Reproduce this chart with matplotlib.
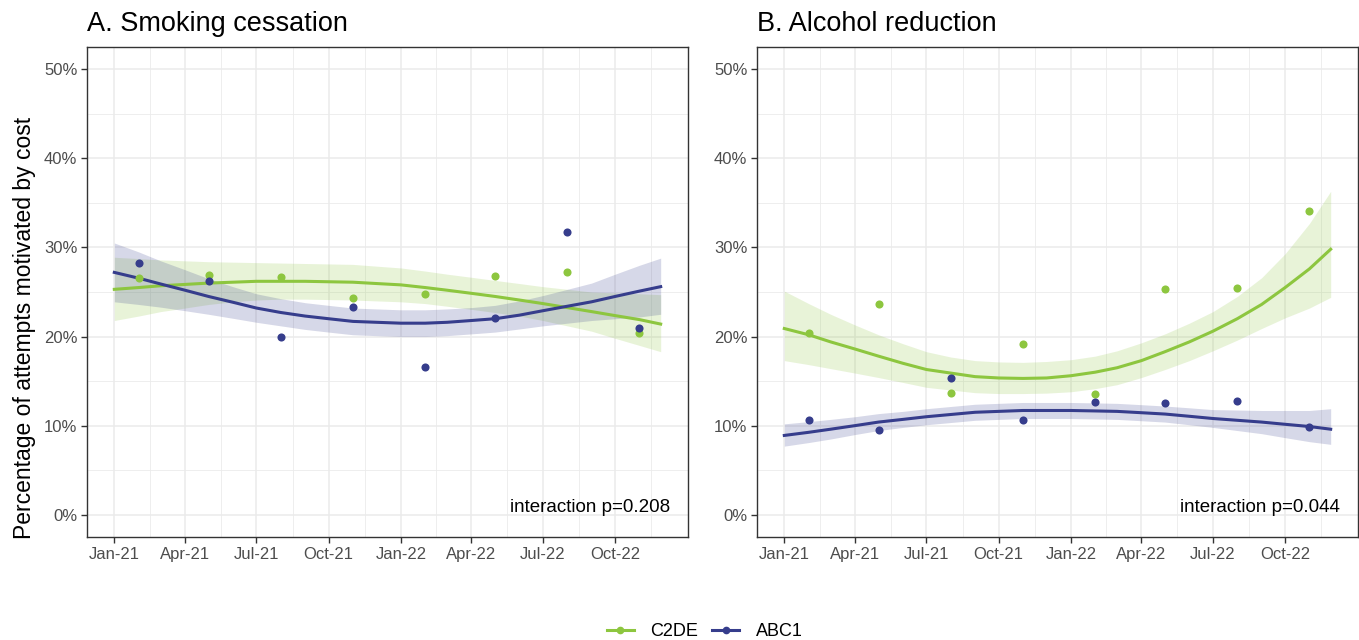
import matplotlib
matplotlib.use("Agg")
import matplotlib.pyplot as plt
import matplotlib.dates as mdates
import numpy as np
from matplotlib.lines import Line2D
from matplotlib.ticker import FixedLocator, MultipleLocator, FuncFormatter

plt.rcParams["font.family"] = ["Liberation Sans", "DejaVu Sans"]

GREEN = "#8DC63F"
NAVY = "#363D8C"

# quarterly survey points
POINT_DATES = np.array(["2021-02-01", "2021-05-01", "2021-08-01", "2021-11-01",
                        "2022-02-01", "2022-05-01", "2022-08-01", "2022-11-01"],
                       dtype="datetime64[D]")

CURVE_DATES = np.append(
    np.arange(np.datetime64("2021-01"), np.datetime64("2022-12")).astype("datetime64[D]"),
    np.datetime64("2022-11-28"))

# A. smoking
smk_c2de_pts = [26.6, 26.9, 26.7, 24.3, 24.8, 26.8, 27.2, 20.4]
smk_abc1_pts = [28.3, 26.2, 20.0, 23.3, 16.6, 22.1, 31.7, 21.0]
smk_c2de_fit = [25.3, 25.5, 25.7, 25.85, 26.0, 26.1, 26.2, 26.2, 26.2, 26.15, 26.1, 25.95,
                25.8, 25.5, 25.2, 24.85, 24.5, 24.1, 23.7, 23.25, 22.8, 22.35, 21.9, 21.4]
smk_c2de_lo = [21.8, 22.3, 22.8, 23.2, 23.6, 23.9, 24.1, 24.2, 24.2, 24.15, 24.1, 24.0,
               23.9, 23.7, 23.4, 23.05, 22.7, 22.3, 21.8, 21.2, 20.6, 19.8, 19.0, 18.3]
smk_c2de_hi = [28.9, 28.75, 28.6, 28.5, 28.4, 28.35, 28.3, 28.25, 28.2, 28.15, 28.1, 27.9,
               27.7, 27.35, 27.0, 26.65, 26.3, 25.95, 25.6, 25.3, 25.0, 24.9, 24.8, 24.7]
smk_abc1_fit = [27.2, 26.55, 25.9, 25.2, 24.5, 23.85, 23.2, 22.7, 22.3, 22.0, 21.7, 21.6,
                21.5, 21.5, 21.6, 21.8, 22.0, 22.4, 22.9, 23.4, 23.9, 24.5, 25.1, 25.6]
smk_abc1_lo = [23.9, 23.6, 23.3, 22.9, 22.5, 22.05, 21.6, 21.2, 20.8, 20.5, 20.2, 20.1,
               20.0, 20.0, 20.1, 20.3, 20.5, 20.85, 21.2, 21.5, 21.8, 22.0, 22.2, 22.5]
smk_abc1_hi = [30.5, 29.5, 28.5, 27.5, 26.5, 25.6, 24.8, 24.25, 23.8, 23.5, 23.2, 23.1,
               23.0, 23.0, 23.1, 23.25, 23.5, 24.0, 24.6, 25.3, 26.0, 27.0, 28.0, 28.8]

# B. alcohol
alc_c2de_pts = [20.4, 23.7, 13.7, 19.2, 13.6, 25.3, 25.4, 34.1]
alc_abc1_pts = [10.6, 9.5, 15.3, 10.6, 12.6, 12.5, 12.8, 9.9]
alc_c2de_fit = [20.9, 20.2, 19.4, 18.6, 17.8, 17.0, 16.3, 15.9, 15.5, 15.35, 15.3, 15.35,
                15.6, 16.0, 16.5, 17.3, 18.3, 19.4, 20.6, 22.0, 23.6, 25.5, 27.6, 29.8]
alc_c2de_lo = [17.3, 16.85, 16.4, 15.9, 15.4, 14.85, 14.3, 14.0, 13.7, 13.6, 13.6, 13.65,
               13.8, 14.15, 14.6, 15.4, 16.3, 17.3, 18.4, 19.6, 20.9, 22.1, 23.2, 24.4]
alc_c2de_hi = [25.1, 23.7, 22.5, 21.3, 20.2, 19.2, 18.3, 17.7, 17.3, 17.15, 17.1, 17.2,
               17.4, 17.8, 18.4, 19.3, 20.3, 21.5, 22.8, 24.5, 26.6, 29.3, 32.7, 36.3]
alc_abc1_fit = [8.9, 9.25, 9.6, 10.0, 10.4, 10.7, 11.0, 11.25, 11.5, 11.6, 11.7, 11.7,
                11.7, 11.65, 11.6, 11.45, 11.3, 11.05, 10.8, 10.6, 10.4, 10.15, 9.9, 9.6]
alc_abc1_lo = [7.7, 8.1, 8.5, 9.0, 9.45, 9.8, 10.1, 10.35, 10.6, 10.7, 10.8, 10.8,
               10.8, 10.75, 10.7, 10.55, 10.4, 10.1, 9.8, 9.45, 9.1, 8.65, 8.2, 7.9]
alc_abc1_hi = [10.2, 10.45, 10.7, 11.0, 11.35, 11.6, 11.9, 12.15, 12.4, 12.5, 12.6, 12.6,
               12.6, 12.55, 12.5, 12.35, 12.2, 12.0, 11.8, 11.75, 11.7, 11.7, 11.7, 11.9]

PANELS = [
    ("A. Smoking cessation", "interaction p=0.208",
     (smk_c2de_pts, smk_c2de_fit, smk_c2de_lo, smk_c2de_hi),
     (smk_abc1_pts, smk_abc1_fit, smk_abc1_lo, smk_abc1_hi)),
    ("B. Alcohol reduction", "interaction p=0.044",
     (alc_c2de_pts, alc_c2de_fit, alc_c2de_lo, alc_c2de_hi),
     (alc_abc1_pts, alc_abc1_fit, alc_abc1_lo, alc_abc1_hi)),
]


def style_axis(ax):
    ax.set_ylim(-2.5, 52.5)
    ax.margins(x=0.05)
    ax.yaxis.set_major_locator(MultipleLocator(10))
    ax.yaxis.set_minor_locator(MultipleLocator(5))
    ax.yaxis.set_major_formatter(FuncFormatter(lambda v, p: f"{v:.0f}%"))

    # quarter starts Oct-20 .. Jan-23
    quarters = np.arange(np.datetime64("2020-10"), np.datetime64("2023-04"),
                         np.timedelta64(3, "M")).astype("datetime64[D]")
    q = mdates.date2num(quarters)
    ax.xaxis.set_major_locator(FixedLocator(q[1:-1]))   # Jan-21 .. Oct-22
    ax.xaxis.set_major_formatter(mdates.DateFormatter("%b-%y"))
    ax.xaxis.set_minor_locator(FixedLocator((q[:-1] + q[1:]) / 2))

    ax.grid(True, which="major", color="#EBEBEB", lw=1.1, zorder=0)
    ax.grid(True, which="minor", color="#EBEBEB", lw=0.6, zorder=0)
    ax.set_axisbelow(True)
    for sp in ax.spines.values():
        sp.set_color("#333333")
        sp.set_linewidth(1.0)
    ax.tick_params(which="major", length=4, width=1.0, color="#333333",
                   labelsize=12, labelcolor="#4D4D4D", pad=3)
    ax.tick_params(which="minor", length=0)


fig = plt.figure(figsize=(13.59, 6.4), dpi=100)
ax_left = fig.add_axes([87 / 1359, 103 / 640, 601 / 1359, 490 / 640])
ax_right = fig.add_axes([757 / 1359, 103 / 640, 601 / 1359, 490 / 640])

for ax, (title, note, c2de, abc1) in zip([ax_left, ax_right], PANELS):
    for (pts, fit, lo, hi), col in [(c2de, GREEN), (abc1, NAVY)]:
        ax.fill_between(CURVE_DATES, lo, hi, color=col, alpha=0.2, lw=0, zorder=2)
        ax.plot(CURVE_DATES, fit, color=col, lw=2.2, zorder=3)
        ax.scatter(POINT_DATES, pts, s=34, color=col, lw=0, zorder=4)
    style_axis(ax)
    ax.set_title(title, loc="left", fontsize=19.5, pad=11.5)
    ax.text(0.970, 0.0612, note, transform=ax.transAxes, ha="right",
            va="center", fontsize=13.5, color="black")

fig.text(25 / 1359, 1 - 328 / 640, "Percentage of attempts motivated by cost",
         rotation=90, ha="center", va="center", fontsize=16.5)

handles = [Line2D([], [], color=GREEN, lw=2.2, marker="o", markersize=4.5),
           Line2D([], [], color=NAVY, lw=2.2, marker="o", markersize=4.5)]
fig.legend(handles, ["C2DE", "ABC1"], loc="center",
           bbox_to_anchor=(704.5 / 1359, 1 - 632 / 640),
           ncol=2, frameon=False, fontsize=13, handlelength=1.5,
           handletextpad=0.9, columnspacing=0.8)

fig.savefig("out.png", dpi=100)
